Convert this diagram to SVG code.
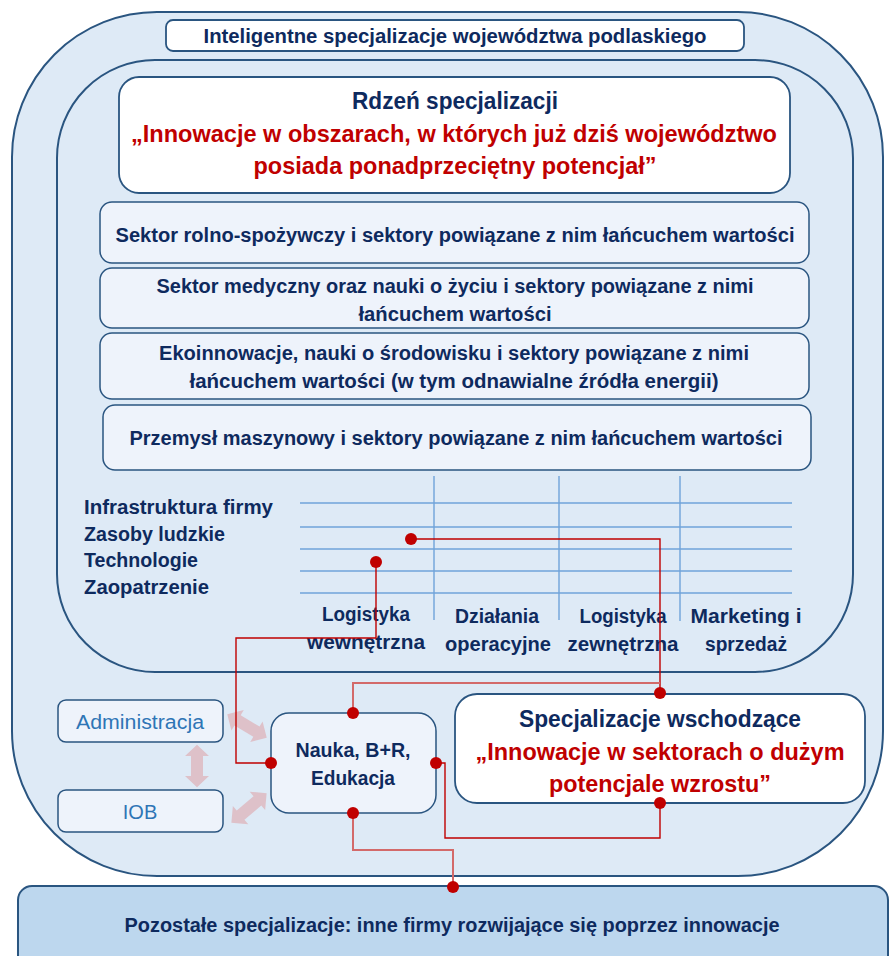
<svg xmlns="http://www.w3.org/2000/svg" width="890" height="956" viewBox="0 0 890 956">
<style>
text{font-family:"Liberation Sans",Arial,sans-serif;font-weight:bold;fill:#0E2A5E;}
.t{font-size:19.5px;}
.big{font-size:24px;}
.red{fill:#C00000;}
.reg{font-weight:normal;fill:#2E75B6;font-size:20px;}
.shell{fill:#DEEAF6;stroke:#2A5580;stroke-width:2;}
.box{fill:#EEF3FB;stroke:#2A5580;stroke-width:1.5;}
.wbox{fill:#FFFFFF;stroke:#2A5580;stroke-width:1.8;}
.grid{stroke:#6FA3DA;stroke-width:1.4;fill:none;}
.ln{stroke:#C00000;stroke-width:1.4;fill:none;}
.ln2{stroke:#D36A6A;stroke-width:2;fill:none;}
.dot{fill:#C00000;}
.arr{fill:#DDB3BA;fill-opacity:0.75;}
</style>
<defs>
<path id="dblarrow" d="M -23 0 L -11 -12 L -11 -6 L 11 -6 L 11 -12 L 23 0 L 11 12 L 11 6 L -11 6 L -11 12 Z"/>
</defs>
<rect width="890" height="956" fill="#FFFFFF"/>

<g id="outer">
<rect class="shell" x="12" y="12" width="871" height="864" rx="145" ry="145"/>
</g>
<g id="title">
<rect class="wbox" x="166" y="20" width="578" height="31" rx="7"/>
<text class="t" x="455" y="43" text-anchor="middle" textLength="503" lengthAdjust="spacingAndGlyphs">Inteligentne specjalizacje województwa podlaskiego</text>
</g>
<g id="inner">
<rect class="shell" x="57" y="60" width="796" height="612" rx="98" ry="98"/>
</g>
<g id="rdzen">
<rect class="wbox" x="119" y="77" width="671" height="116" rx="20"/>
<text class="big" x="455" y="109" text-anchor="middle" textLength="206" lengthAdjust="spacingAndGlyphs">Rdzeń specjalizacji</text>
<text class="big red" x="454" y="142" text-anchor="middle" textLength="646" lengthAdjust="spacingAndGlyphs">„Innowacje w obszarach, w których już dziś województwo</text>
<text class="big red" x="455" y="174" text-anchor="middle" textLength="403" lengthAdjust="spacingAndGlyphs">posiada ponadprzeciętny potencjał”</text>
</g>
<g id="sektor1">
<rect class="box" x="100" y="202" width="709" height="61" rx="12"/>
<text class="t" x="455" y="242" text-anchor="middle" textLength="679" lengthAdjust="spacingAndGlyphs">Sektor rolno-spożywczy i sektory powiązane z nim łańcuchem wartości</text>
</g>
<g id="sektor2">
<rect class="box" x="100" y="268" width="709" height="60" rx="12"/>
<text class="t" x="455" y="293" text-anchor="middle" textLength="597" lengthAdjust="spacingAndGlyphs">Sektor medyczny oraz nauki o życiu i sektory powiązane z nimi</text>
<text class="t" x="455" y="321" text-anchor="middle" textLength="193" lengthAdjust="spacingAndGlyphs">łańcuchem wartości</text>
</g>
<g id="sektor3">
<rect class="box" x="100" y="333" width="709" height="66" rx="12"/>
<text class="t" x="454" y="360" text-anchor="middle" textLength="590" lengthAdjust="spacingAndGlyphs">Ekoinnowacje, nauki o środowisku i sektory powiązane z nimi</text>
<text class="t" x="454" y="388" text-anchor="middle" textLength="529" lengthAdjust="spacingAndGlyphs">łańcuchem wartości (w tym odnawialne źródła energii)</text>
</g>
<g id="sektor4">
<rect class="box" x="103" y="405" width="708" height="65" rx="12"/>
<text class="t" x="456" y="445" text-anchor="middle" textLength="653" lengthAdjust="spacingAndGlyphs">Przemysł maszynowy i sektory powiązane z nim łańcuchem wartości</text>
</g>
<g id="lancuch-wartosci">
<g class="grid">
<line x1="300" y1="503" x2="792" y2="503"/>
<line x1="300" y1="527" x2="792" y2="527"/>
<line x1="300" y1="549" x2="792" y2="549"/>
<line x1="300" y1="571" x2="792" y2="571"/>
<line x1="300" y1="593" x2="792" y2="593"/>
<line x1="434" y1="476" x2="434" y2="620"/>
<line x1="559" y1="476" x2="559" y2="620"/>
<line x1="680" y1="476" x2="680" y2="621"/>
</g>
<text class="t" x="84" y="514" textLength="189" lengthAdjust="spacingAndGlyphs">Infrastruktura firmy</text>
<text class="t" x="84" y="541" textLength="141" lengthAdjust="spacingAndGlyphs">Zasoby ludzkie</text>
<text class="t" x="84" y="567" textLength="114" lengthAdjust="spacingAndGlyphs">Technologie</text>
<text class="t" x="84" y="594" textLength="125" lengthAdjust="spacingAndGlyphs">Zaopatrzenie</text>
<text class="t" x="366" y="621" text-anchor="middle" textLength="88" lengthAdjust="spacingAndGlyphs">Logistyka</text>
<text class="t" x="366" y="649" text-anchor="middle" textLength="118" lengthAdjust="spacingAndGlyphs">wewnętrzna</text>
<text class="t" x="497" y="623" text-anchor="middle" textLength="84" lengthAdjust="spacingAndGlyphs">Działania</text>
<text class="t" x="498" y="651" text-anchor="middle" textLength="106" lengthAdjust="spacingAndGlyphs">operacyjne</text>
<text class="t" x="623" y="623" text-anchor="middle" textLength="87" lengthAdjust="spacingAndGlyphs">Logistyka</text>
<text class="t" x="623" y="651" text-anchor="middle" textLength="111" lengthAdjust="spacingAndGlyphs">zewnętrzna</text>
<text class="t" x="746" y="623" text-anchor="middle" textLength="111" lengthAdjust="spacingAndGlyphs">Marketing i</text>
<text class="t" x="746" y="651" text-anchor="middle" textLength="82" lengthAdjust="spacingAndGlyphs">sprzedaż</text>
</g>
<g id="administracja">
<rect class="box" x="58" y="700" width="165" height="42" rx="8"/>
<text class="reg" x="140" y="729" text-anchor="middle" textLength="128" lengthAdjust="spacingAndGlyphs">Administracja</text>
</g>
<g id="iob">
<rect class="box" x="58" y="790" width="165" height="42" rx="8"/>
<text class="reg" x="140" y="819" text-anchor="middle">IOB</text>
</g>
<g id="nauka">
<rect class="box" x="271" y="713" width="165" height="100" rx="18"/>
<text class="t" x="353" y="757" text-anchor="middle" textLength="115" lengthAdjust="spacingAndGlyphs">Nauka, B+R,</text>
<text class="t" x="353" y="785" text-anchor="middle" textLength="84" lengthAdjust="spacingAndGlyphs">Edukacja</text>
</g>
<g id="wschodzace">
<rect class="wbox" x="455" y="694" width="410" height="109" rx="22"/>
<text class="big" x="660" y="727" text-anchor="middle" textLength="282" lengthAdjust="spacingAndGlyphs">Specjalizacje wschodzące</text>
<text class="big red" x="660" y="760" text-anchor="middle" textLength="369" lengthAdjust="spacingAndGlyphs">„Innowacje w sektorach o dużym</text>
<text class="big red" x="660" y="792" text-anchor="middle" textLength="222" lengthAdjust="spacingAndGlyphs">potencjale wzrostu”</text>
</g>
<g id="pozostale">
<rect x="18" y="886" width="870" height="90" rx="14" fill="#BDD7EE" stroke="#2A5580" stroke-width="2"/>
<text class="t" x="452" y="932" text-anchor="middle" textLength="655" lengthAdjust="spacingAndGlyphs">Pozostałe specjalizacje: inne firmy rozwijające się poprzez innowacje</text>
</g>
<g id="connectors">
<use href="#dblarrow" class="arr" transform="translate(247 726) rotate(31)"/>
<use href="#dblarrow" class="arr" transform="translate(197 766) rotate(90) scale(0.92 1)"/>
<use href="#dblarrow" class="arr" transform="translate(249 808) rotate(-40)"/>
<polyline class="ln" points="411,539 660,539 660,693"/>
<polyline class="ln" points="376,562 376,638 236,638 236,763 271,763"/>
<polyline class="ln2" points="660,683 353,683 353,713"/>
<polyline class="ln" points="436,763 445,763 445,838 660,838 660,803"/>
<polyline class="ln2" points="353,813 353,850 453,850 453,887"/>
<circle class="dot" cx="411" cy="539" r="6"/>
<circle class="dot" cx="376" cy="562" r="6"/>
<circle class="dot" cx="660" cy="693" r="6"/>
<circle class="dot" cx="353" cy="713" r="6"/>
<circle class="dot" cx="271" cy="763" r="6"/>
<circle class="dot" cx="436" cy="763" r="6"/>
<circle class="dot" cx="660" cy="803" r="6"/>
<circle class="dot" cx="353" cy="813" r="6"/>
<circle class="dot" cx="453" cy="887" r="6"/>
</g>
</svg>
